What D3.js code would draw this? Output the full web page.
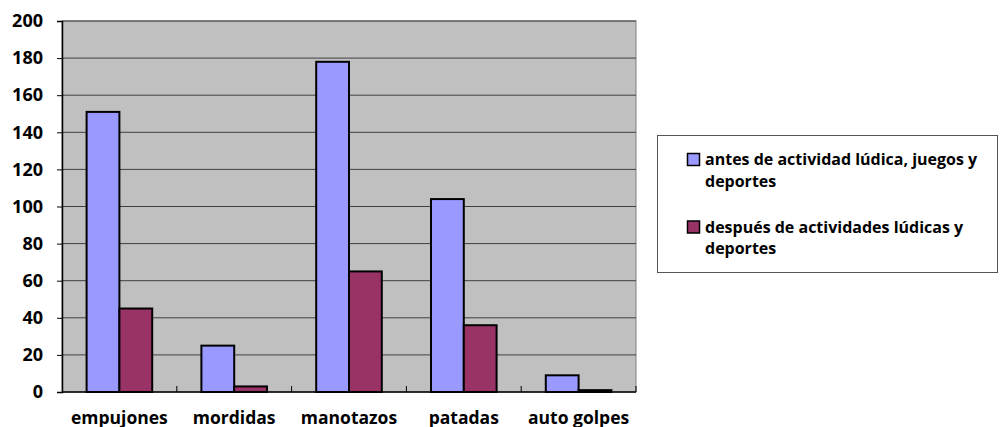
<!DOCTYPE html>
<html>
<head>
<meta charset="utf-8">
<script src="https://cdn.jsdelivr.net/npm/d3@7"></script>
<style>
  body { margin: 0; background: #fff; }
  text { font-family: "Open Sans", "Lato", sans-serif; font-weight: bold; fill: #000; }
</style>
</head>
<body>
<div id="chart"></div>
<script>
"use strict";

// categories and the two series
var categories = ["empujones", "mordidas", "manotazos", "patadas", "auto golpes"];
var antes = [151, 25, 178, 104, 9];
var despues = [45, 3, 65, 36, 1];
var seriesNames = ["antes de actividad lúdica, juegos y deportes",
                   "después de actividades lúdicas y deportes"];
var legendLines = [["antes de actividad lúdica, juegos y", "deportes"],
                   ["después de actividades lúdicas y", "deportes"]];
var yTicks = [0, 20, 40, 60, 80, 100, 120, 140, 160, 180, 200];

var colors = ["#9999FF", "#993366"];

var W = 1000, H = 427;
var margin = {top: 21, left: 62};
var width = 574, height = 371;

var svg = d3.select("#chart").append("svg")
    .attr("width", W)
    .attr("height", H);

var g = svg.append("g")
    .attr("transform", "translate(" + margin.left + "," + margin.top + ")");

var x = d3.scaleBand()
    .domain(categories)
    .range([0, width]);

var y = d3.scaleLinear()
    .domain([0, 200])
    .range([height, 0]);

// plot background
g.append("rect")
    .attr("width", width)
    .attr("height", height)
    .attr("fill", "#C0C0C0")
    .attr("stroke", "#808080")
    .attr("stroke-width", 1);

// gridlines
g.selectAll(".grid")
    .data(yTicks.filter(function(d) { return d > 0; }))
  .enter().append("line")
    .attr("x1", 0)
    .attr("x2", width)
    .attr("y1", function(d) { return y(d); })
    .attr("y2", function(d) { return y(d); })
    .attr("stroke", "#404040")
    .attr("stroke-width", 1);

// bars: gap width 150% like excel
var bw = x.bandwidth() / 3.5;
var data = categories.map(function(c, i) { return {cat: c, vals: [antes[i], despues[i]]}; });

var groups = g.selectAll(".grp")
    .data(data)
  .enter().append("g")
    .attr("transform", function(d) { return "translate(" + (x(d.cat) + bw * 0.75) + ",0)"; });

groups.selectAll("rect")
    .data(function(d) { return d.vals; })
  .enter().append("rect")
    .attr("x", function(d, i) { return i * bw; })
    .attr("y", function(d) { return y(d); })
    .attr("width", bw)
    .attr("height", function(d) { return height - y(d); })
    .attr("fill", function(d, i) { return colors[i]; })
    .attr("stroke", "#000")
    .attr("stroke-width", 2);

// y axis
var yAxis = g.append("g")
    .call(d3.axisLeft(y).tickValues(yTicks).tickSize(5).tickPadding(14));
yAxis.select(".domain").attr("stroke", "#000").attr("stroke-width", 1.5);
yAxis.selectAll(".tick line").attr("stroke", "#000");
yAxis.selectAll("text")
    .attr("font-size", 18)
    .attr("font-family", null)
    .attr("fill", "#000");

// x axis
g.append("line")
    .attr("x1", 0).attr("x2", width)
    .attr("y1", height).attr("y2", height)
    .attr("stroke", "#000")
    .attr("stroke-width", 1.5);

g.selectAll(".xtick")
    .data(categories)
  .enter().append("line")
    .attr("x1", function(d) { return x(d) + x.step(); })
    .attr("x2", function(d) { return x(d) + x.step(); })
    .attr("y1", height)
    .attr("y2", height - 6)
    .attr("stroke", "#000");

g.selectAll(".xlabel")
    .data(categories)
  .enter().append("text")
    .attr("x", function(d) { return x(d) + x.bandwidth() / 2; })
    .attr("y", height + 32)
    .attr("text-anchor", "middle")
    .attr("font-size", 17.5)
    .text(function(d) { return d; });

// legend
var legend = svg.append("g");
legend.append("rect")
    .attr("x", 657.5).attr("y", 135.5)
    .attr("width", 340).attr("height", 137)
    .attr("fill", "#fff")
    .attr("stroke", "#555")
    .attr("stroke-width", 1);

var items = legend.selectAll(".item")
    .data(seriesNames)
  .enter().append("g")
    .attr("transform", function(d, i) { return "translate(687," + (153 + i * 67.5) + ")"; });

items.append("rect")
    .attr("x", 0.5).attr("y", 0.5)
    .attr("width", 12).attr("height", 12)
    .attr("fill", function(d, i) { return colors[i]; })
    .attr("stroke", "#000")
    .attr("stroke-width", 1.5);

items.each(function(d, i) {
  var t = d3.select(this).append("text")
      .attr("x", 18)
      .attr("y", 12)
      .attr("font-size", 16);
  legendLines[i].forEach(function(s, k) {
    t.append("tspan").attr("x", 18).attr("dy", k === 0 ? 0 : 21.5).text(s);
  });
});
</script>
</body>
</html>
